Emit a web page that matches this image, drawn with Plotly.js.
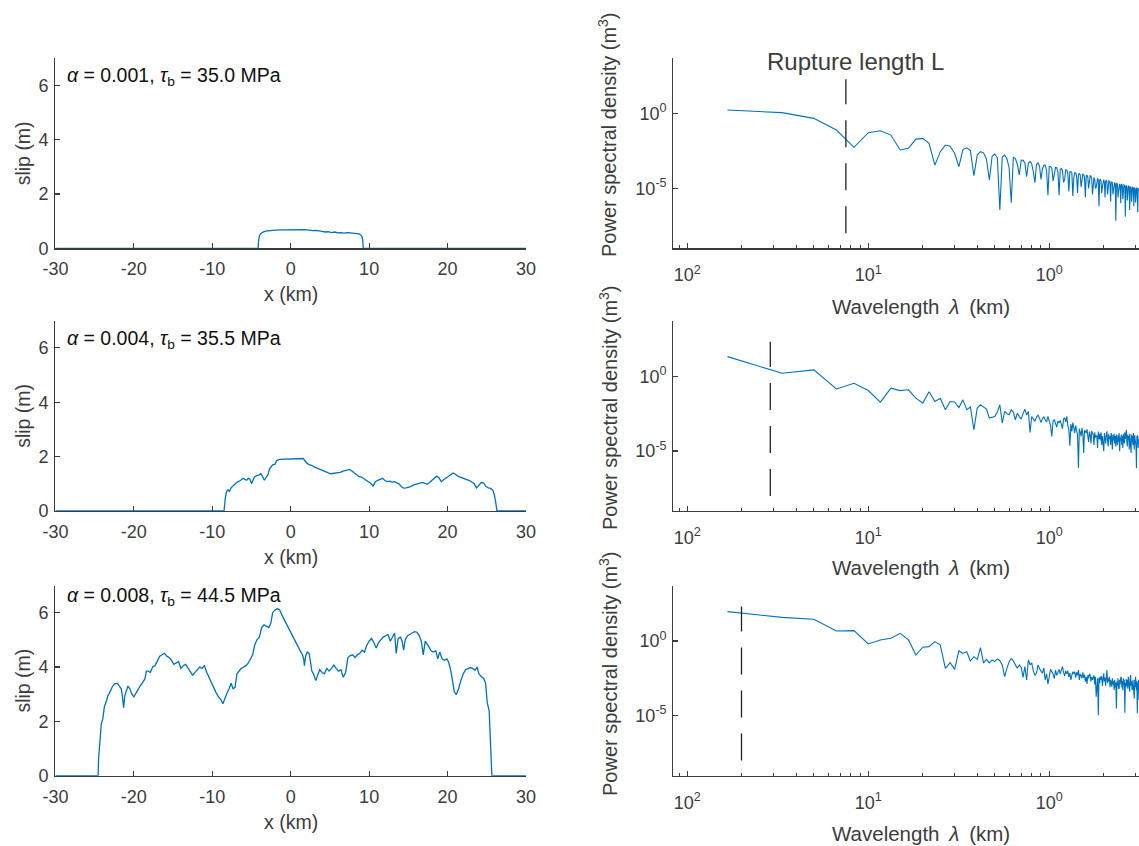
<!DOCTYPE html>
<html>
<head>
<meta charset="utf-8">
<script src="https://cdn.plot.ly/plotly-3.0.1.min.js"></script>
<style>
html,body{margin:0;padding:0;background:#fff;}
#chart{width:1139px;height:846px;}
</style>
</head>
<body>
<div id="chart"></div>
<script>
// ---------------- DATA ----------------
const panelLabels = [
  '<i>α</i> = 0.001, <i>τ</i><sub>b</sub> = 35.0 MPa',
  '<i>α</i> = 0.004, <i>τ</i><sub>b</sub> = 35.5 MPa',
  '<i>α</i> = 0.008, <i>τ</i><sub>b</sub> = 44.5 MPa'
];
const slipTickVals = [-30, -20, -10, 0, 10, 20, 30];
const slipTickText = ['-30', '-20', '-10', '0', '10', '20', '30'];
const slipYTicks = [0, 2, 4, 6];
const waveTickVals = [100, 10, 1];
const waveTickText = ['10<sup>2</sup>', '10<sup>1</sup>', '10<sup>0</sup>'];
const psdTickVals = [1, 1e-5];
const psdTickText = ['10<sup>0</sup>', '10<sup>-5</sup>'];

// rupture lengths (km) marked by dashed lines
const ruptureLength = [13.3, 34.8, 50.2];
const dashedSpan = [1e-8, 200];

// slip profiles: x (km), slip (m)
const slip1X = [-30, -4.15, -4.1, -4.0, -3.85, -3.6, -3.2, -2.6, -2.0, -1.0, 0.0, 1.0, 1.8, 2.4, 2.8, 3.2, 3.6, 4.0, 4.4, 4.8, 5.2, 5.6, 6.0, 6.4, 6.8, 7.2, 7.6, 8.0, 8.4, 8.7, 8.95, 9.1, 9.2, 9.25, 30];
const slip1Y = [0, 0, 0.25, 0.45, 0.53, 0.59, 0.63, 0.66, 0.67, 0.68, 0.69, 0.70, 0.69, 0.67, 0.65, 0.66, 0.63, 0.62, 0.60, 0.61, 0.58, 0.60, 0.57, 0.58, 0.56, 0.58, 0.57, 0.56, 0.55, 0.53, 0.49, 0.42, 0.25, 0, 0];

const slip2X = [-30, -8.5, -8.35, -8.2, -8.0, -7.8, -7.6, -7.3, -7.0, -6.7, -6.4, -6.1, -5.85, -5.6, -5.4, -5.2, -5.0, -4.8, -4.6, -4.3, -4.0, -3.8, -3.6, -3.35, -3.1, -2.9, -2.7, -2.5, -2.3, -2.0, -1.8, -1.6, -1.4, 1.6, 1.9, 2.1, 2.4, 2.7, 3.0, 3.3, 3.6, 3.9, 4.2, 4.5, 4.8, 5.1, 5.5, 5.9, 6.3, 6.7, 7.1, 7.5, 7.8, 8.1, 8.4, 8.7, 9.0, 9.3, 9.6, 9.9, 10.2, 10.5, 10.8, 11.1, 11.4, 11.7, 12.0, 12.3, 12.6, 12.9, 13.2, 13.5, 13.8, 14.1, 14.4, 14.7, 15.0, 15.3, 15.6, 15.9, 16.2, 16.5, 16.8, 17.1, 17.4, 17.7, 18.0, 18.3, 18.6, 18.9, 19.2, 19.5, 19.8, 20.1, 20.4, 20.7, 21.0, 21.3, 21.6, 21.9, 22.2, 22.5, 22.8, 23.1, 23.4, 23.7, 24.0, 24.3, 24.6, 24.9, 25.2, 25.5, 25.8, 26.0, 26.15, 26.3, 30];
const slip2Y = [0, 0, 0.45, 0.70, 0.78, 0.72, 0.85, 0.95, 1.02, 1.08, 1.12, 1.20, 1.17, 1.13, 1.20, 1.18, 1.00, 1.15, 1.26, 1.30, 1.33, 1.38, 1.28, 1.13, 1.25, 1.33, 1.55, 1.63, 1.70, 1.72, 1.85, 1.88, 1.90, 1.93, 1.82, 1.75, 1.70, 1.68, 1.62, 1.58, 1.55, 1.50, 1.47, 1.42, 1.40, 1.37, 1.38, 1.40, 1.42, 1.47, 1.50, 1.53, 1.47, 1.40, 1.33, 1.27, 1.25, 1.20, 1.12, 1.07, 1.02, 0.92, 1.08, 1.13, 1.18, 1.20, 1.12, 1.08, 1.10, 1.06, 1.08, 1.05, 1.00, 0.90, 0.84, 0.85, 0.87, 0.90, 0.95, 0.97, 1.00, 1.02, 1.05, 1.02, 0.98, 1.05, 1.12, 1.20, 1.28, 1.22, 1.08, 1.15, 1.22, 1.28, 1.33, 1.40, 1.35, 1.28, 1.25, 1.22, 1.20, 1.15, 1.12, 1.06, 1.00, 0.85, 0.95, 1.05, 1.03, 0.90, 0.85, 0.83, 0.75, 0.55, 0.30, 0, 0];

const slip3X = [-30, -24.55, -24.5, -24.35, -24.15, -23.95, -23.75, -23.5, -23.3, -23.1, -22.9, -22.7, -22.4, -22.1, -21.85, -21.6, -21.45, -21.3, -21.15, -20.95, -20.75, -20.5, -20.25, -20.0, -19.75, -19.5, -19.2, -18.9, -18.6, -18.4, -18.15, -17.9, -17.6, -17.3, -17.0, -16.7, -16.4, -16.1, -15.8, -15.5, -15.2, -14.9, -14.6, -14.3, -14.0, -13.7, -13.4, -13.1, -12.8, -12.5, -12.2, -11.9, -11.6, -11.3, -11.0, -10.7, -10.4, -10.1, -9.8, -9.5, -9.2, -8.9, -8.65, -8.4, -8.1, -7.85, -7.6, -7.35, -7.1, -6.85, -6.6, -6.3, -6.0, -5.7, -5.4, -5.1, -4.85, -4.6, -4.3, -4.0, -3.7, -3.4, -3.1, -2.8, -2.55, -2.3, -2.0, -1.7, -1.4, -1.1, 1.3, 1.5, 1.65, 1.75, 1.9, 2.1, 2.35, 2.55, 2.7, 2.9, 3.2, 3.5, 3.7, 4.0, 4.3, 4.6, 4.9, 5.2, 5.5, 5.8, 6.1, 6.4, 6.7, 7.0, 7.3, 7.6, 7.9, 8.2, 8.5, 8.8, 9.1, 9.4, 9.7, 10.0, 10.3, 10.6, 10.9, 11.2, 11.5, 11.8, 12.1, 12.4, 12.7, 13.0, 13.25, 13.45, 13.7, 14.0, 14.2, 14.4, 14.6, 14.9, 15.2, 15.5, 15.8, 16.1, 16.4, 16.65, 16.9, 17.15, 17.4, 17.6, 17.9, 18.2, 18.5, 18.75, 19.0, 19.3, 19.6, 19.9, 20.1, 20.35, 20.6, 20.85, 21.1, 21.4, 21.7, 22.0, 22.3, 22.6, 22.9, 23.2, 23.5, 23.75, 24.0, 24.3, 24.6, 24.85, 25.05, 25.3, 25.45, 25.55, 25.65, 30];
const slip3Y = [0, 0, 0.6, 1.2, 1.9, 2.1, 2.55, 2.75, 2.95, 3.05, 3.15, 3.3, 3.38, 3.4, 3.3, 3.2, 2.9, 2.5, 2.95, 3.15, 3.3, 3.2, 3.0, 2.9, 3.05, 3.15, 3.3, 3.45, 3.55, 3.85, 3.85, 3.8, 4.0, 4.05, 4.25, 4.4, 4.45, 4.5, 4.4, 4.35, 4.25, 4.1, 4.15, 4.2, 3.95, 4.05, 4.1, 3.95, 3.85, 3.7, 3.8, 3.9, 4.0, 3.95, 4.05, 3.8, 3.6, 3.45, 3.2, 3.05, 2.9, 2.8, 2.65, 2.85, 3.05, 3.2, 3.4, 3.2, 3.25, 3.75, 3.85, 3.95, 4.0, 4.05, 4.15, 4.3, 4.45, 4.8, 5.0, 5.1, 5.45, 5.55, 5.5, 5.45, 5.6, 6.0, 6.1, 6.15, 6.1, 5.9, 4.55, 4.45, 4.3, 4.05, 4.4, 4.55, 4.5, 4.2, 3.85, 3.75, 3.5, 3.75, 3.9, 3.8, 3.75, 3.95, 3.85, 3.95, 4.07, 3.95, 3.85, 3.9, 3.62, 3.8, 4.35, 4.42, 4.45, 4.35, 4.45, 4.5, 4.62, 4.55, 4.8, 4.95, 5.05, 4.9, 4.7, 4.9, 5.0, 5.1, 5.15, 5.2, 4.95, 5.1, 5.25, 4.5, 5.05, 5.1, 4.95, 4.62, 5.0, 5.15, 5.2, 5.25, 5.3, 5.28, 5.15, 4.95, 4.45, 4.95, 4.85, 4.75, 4.6, 4.55, 4.6, 4.3, 4.55, 4.3, 4.25, 4.3, 4.2, 3.95, 3.55, 3.1, 2.98, 3.2, 3.5, 3.75, 3.9, 3.95, 3.98, 3.95, 3.88, 4.0, 3.75, 3.65, 3.58, 3.4, 2.7, 2.4, 1.5, 0.8, 0, 0];

// power spectral density, log10(PSD [m^3]) for harmonics n = 1, 2, 3, ... (wavelength = domainLength / n)
const domainLength = 60; // km
const psd1Log10 = [0.25, 0.07, -0.31, -1.09, -2.25, -1.27, -1.14, -1.43, -2.43, -2.32,
 -1.70, -1.65, -1.99, -3.44, -2.54, -2.10, -2.17, -2.65, -3.55, -2.40,
 -2.28, -2.47, -4.15, -2.77, -2.54, -2.62, -3.05, -4.44, -2.85, -2.70,
 -2.95, -6.45, -2.90, -2.77, -3.00, -3.60, -5.96, -2.92, -3.00, -3.40,
 -4.10, -3.10, -3.12, -3.30, -4.22, -3.30, -3.20, -3.35, -3.90, -4.62,
 -3.40, -3.30, -3.50, -4.40, -3.70, -3.45, -3.44, -3.80, -5.45, -3.55,
 -3.52, -3.65, -4.50, -4.00, -3.60, -3.62, -3.90, -5.45, -3.75, -3.66,
 -3.80, -4.60, -4.40, -3.75, -3.78, -4.00, -5.20, -3.90, -3.88, -3.95,
 -5.50, -4.30, -3.95, -3.95, -4.20, -5.30, -4.05, -4.00, -4.10, -4.90,
 -4.60, -4.05, -4.08, -4.30, -5.60, -4.15, -4.12, -4.25, -5.00, -4.55,
 -4.15, -4.18, -4.35, -5.40, -4.30, -4.27, -4.40, -5.00, -4.95, -4.35,
 -4.33, -4.45, -6.20, -4.45, -4.38, -4.50, -5.30, -4.90, -4.42, -4.42,
 -4.60, -5.60, -4.50, -4.47, -4.60, -5.40, -5.00, -4.50, -4.52, -4.70,
 -5.90, -4.60, -4.55, -4.65, -5.40, -5.10, -4.60, -4.60, -4.75, -7.17,
 -4.70, -4.65, -4.78, -5.60, -5.20, -4.70, -4.70, -4.85, -6.00, -4.75,
 -4.72, -4.85, -5.70, -5.30, -4.76, -4.78, -4.95, -6.90, -4.85, -4.80,
 -4.92, -5.80, -5.40, -4.85, -4.85, -5.00, -6.45, -4.92, -4.88, -5.00,
 -5.90, -5.50, -4.90, -4.92, -5.05, -6.20, -5.00, -4.95, -5.05, -5.95,
 -5.60, -4.95, -4.97, -5.10, -6.60, -5.05, -5.00, -5.10];
const psd2Log10 = [1.31, 0.20, 0.42, -0.85, -0.47, -0.96, -1.73, -0.80, -0.96, -0.91,
 -1.47, -1.80, -1.04, -1.69, -1.47, -2.24, -1.69, -1.72, -2.10, -1.58,
 -2.24, -2.06, -3.58, -2.13, -1.91, -2.06, -2.20, -2.80, -2.73, -2.69,
 -2.40, -1.91, -3.13, -2.36, -2.50, -2.58, -2.24, -2.40, -2.91, -2.47,
 -2.70, -2.87, -2.50, -2.20, -2.60, -2.35, -3.76, -2.69, -2.85, -3.02,
 -2.75, -2.60, -2.80, -3.10, -2.85, -2.70, -2.91, -3.05, -2.69, -2.95,
 -3.30, -4.02, -3.00, -2.91, -3.20, -3.40, -3.00, -3.13, -2.95, -3.25,
 -3.50, -2.85, -2.80, -3.05, -2.69, -3.30, -3.60, -4.64, -3.20, -3.69,
 -3.10, -3.45, -3.80, -3.30, -3.55, -3.90, -6.13, -3.50, -3.75, -4.02,
 -3.45, -3.90, -5.13, -3.60, -3.70, -3.80, -3.55, -4.20, -4.40, -3.70,
 -3.90, -4.50, -3.65, -3.80, -3.91, -4.60, -3.75, -4.10, -3.95, -4.02,
 -4.80, -3.70, -4.20, -3.85, -4.30, -3.75, -4.60, -4.00, -4.40, -5.02,
 -3.80, -4.10, -4.50, -3.90, -3.69, -4.30, -4.70, -3.85, -4.20, -4.00,
 -4.60, -3.80, -4.10, -4.90, -3.91, -4.30, -3.85, -4.50, -4.00, -4.70,
 -3.90, -4.25, -4.60, -3.95, -4.40, -3.80, -5.02, -4.10, -4.30, -3.90,
 -4.60, -4.00, -4.80, -3.85, -4.35, -4.50, -3.75, -4.20, -3.95, -3.58,
 -4.40, -4.70, -3.90, -4.30, -4.00, -4.90, -3.85, -4.50, -4.20, -5.13,
 -3.90, -4.40, -4.00, -4.60, -3.80, -4.30, -4.90, -3.95, -4.50, -4.10,
 -4.70, -6.13, -4.00, -4.40, -3.95, -4.80, -4.20, -4.50];
const psd3Log10 = [1.96, 1.58, 1.45, 0.67, 0.69, -0.20, 0.07, 0.18, 0.51, 0.07,
 -0.94, -0.42, -0.38, -0.04, -0.27, -1.83, -1.45, -1.90, -0.65, -0.83,
 -0.72, -1.34, -1.05, -1.23, -0.45, -1.47, -1.23, -1.47, -1.27, -1.38,
 -1.20, -1.32, -1.60, -2.39, -1.83, -1.40, -1.16, -1.32, -1.60, -1.83,
 -1.60, -1.75, -2.43, -1.72, -2.61, -1.27, -1.60, -1.47, -2.00, -2.30,
 -2.16, -1.60, -1.85, -2.00, -2.16, -1.80, -2.61, -2.20, -2.88, -2.40,
 -1.90, -2.05, -2.20, -2.50, -1.95, -2.30, -2.10, -1.90, -2.20, -1.95,
 -1.72, -2.10, -2.34, -2.00, -2.20, -1.99, -2.40, -2.15, -2.61, -2.30,
 -2.05, -2.20, -2.05, -2.45, -2.10, -2.30, -1.94, -2.60, -2.20, -2.34,
 -2.50, -2.10, -2.45, -2.25, -2.72, -2.40, -2.88, -2.30, -2.50, -2.20,
 -2.28, -2.70, -2.40, -2.60, -2.50, -2.30, -2.90, -2.40, -3.73, -2.60,
 -2.50, -4.96, -2.45, -2.80, -2.39, -2.60, -2.35, -3.00, -2.50, -2.16,
 -2.70, -2.45, -3.00, -2.30, -1.94, -2.80, -2.50, -2.70, -2.39, -3.10,
 -2.60, -2.80, -3.06, -2.50, -2.90, -2.70, -3.28, -2.60, -3.10, -2.80,
 -4.51, -2.70, -3.00, -2.50, -3.20, -3.17, -2.60, -2.90, -2.45, -2.39,
 -3.10, -2.70, -3.30, -2.50, -2.90, -2.60, -4.80, -2.80, -3.10, -2.55,
 -3.00, -2.61, -3.20, -2.40, -2.90, -2.70, -3.40, -2.50, -2.28, -3.00,
 -2.70, -3.20, -3.28, -2.60, -3.00, -2.80, -3.84, -2.60, -3.10, -2.39,
 -2.90, -3.30, -2.70, -4.84, -2.80, -3.10, -2.60, -3.95];

// ---------------- CHART ----------------
const slipX = [slip1X, slip2X, slip3X];
const slipY = [slip1Y, slip2Y, slip3Y];
const psdLog = [psd1Log10, psd2Log10, psd3Log10];

const W = 1139, H = 846;
const px = v => v / W;
const py = v => 1 - v / H;

const BLUE = '#0072BD';
const AX = '#3c3c3c';
const FONT = 'Liberation Sans, Arial, Helvetica, sans-serif';

// plot-area rows (pixel top, bottom)
const rows = [[58.3, 248.3], [320.7, 511], [585.5, 775.7]];
const leftDom = [px(55.4), px(526)];
const rightDom = [px(673.4), 1];

// minor ticks of the wavelength axes (at multiples of wavenumber)
const minorVals = [];
[1000, 100, 10, 1].forEach(d => { for (let m = 2; m <= 9; m++) minorVals.push(d / m); });

const traces = [];
const layout = {
  width: W, height: H,
  margin: {l: 0, r: 0, t: 0, b: 0},
  paper_bgcolor: '#fff', plot_bgcolor: '#fff',
  showlegend: false,
  font: {family: FONT, color: AX, size: 18},
  annotations: [],
};

rows.forEach((r, i) => {
  const li = 2 * i + 1, ri = 2 * i + 2;
  const lx = li === 1 ? 'x' : 'x' + li, ly = li === 1 ? 'y' : 'y' + li;
  const rx = 'x' + ri, ry = 'y' + ri;
  const yDom = [py(r[1]), py(r[0])];

  traces.push({x: slipX[i], y: slipY[i], xaxis: lx, yaxis: ly, type: 'scatter', mode: 'lines',
    line: {color: BLUE, width: 1.3}, hoverinfo: 'skip'});

  const lam = psdLog[i].map((_, k) => domainLength / (k + 1));
  traces.push({x: lam, y: psdLog[i].map(v => Math.pow(10, v)), xaxis: rx, yaxis: ry, type: 'scatter', mode: 'lines',
    line: {color: BLUE, width: 1.1}, hoverinfo: 'skip'});
  traces.push({x: [ruptureLength[i], ruptureLength[i]], y: dashedSpan, xaxis: rx, yaxis: ry, type: 'scatter', mode: 'lines',
    line: {color: '#202020', width: 1.3, dash: '27px,16px'}, hoverinfo: 'skip'});

  const common = {showgrid: false, zeroline: false, showline: true, linecolor: AX, linewidth: 1.2,
    ticks: 'inside', ticklen: 5, tickwidth: 1.2, tickcolor: AX, tickfont: {family: FONT, size: 18, color: AX}};

  layout['xaxis' + (li === 1 ? '' : li)] = Object.assign({}, common, {
    domain: leftDom, anchor: ly, range: [-30, 30], tickmode: 'array', tickvals: slipTickVals, ticktext: slipTickText,
    ticklabelstandoff: 4});
  layout['yaxis' + (li === 1 ? '' : li)] = Object.assign({}, common, {
    domain: yDom, anchor: lx, range: [0, 7], tickmode: 'array', tickvals: slipYTicks, ticktext: slipYTicks.map(String),
    ticklabelstandoff: 2});

  layout['xaxis' + ri] = Object.assign({}, common, {
    domain: rightDom, anchor: ry, type: 'log', range: [2.077, -0.496], tickmode: 'array',
    tickvals: waveTickVals, ticktext: waveTickText, ticklabelstandoff: 10,
    minor: {tickmode: 'array', tickvals: minorVals, ticks: 'inside', ticklen: 3, tickwidth: 1, tickcolor: AX, showgrid: false}});
  layout['yaxis' + ri] = Object.assign({}, common, {
    domain: yDom, anchor: rx, type: 'log', range: [-9.01, 3.71], tickmode: 'array',
    tickvals: psdTickVals, ticktext: psdTickText, ticklabelstandoff: 2});
});

const titleFont = {family: FONT, size: 19.5, color: AX};
const addAnn = (text, x, y, extra) => layout.annotations.push(Object.assign({
  text: text, x: px(x), y: py(y), xref: 'paper', yref: 'paper', showarrow: false,
  xanchor: 'center', yanchor: 'middle', font: titleFont}, extra || {}));

const labelY = [76, 339, 596];
const xTitleLeftY = [294, 557, 822];
const xTitleRightY = [306.7, 567, 833];
const yTitleRightY = [135, 408, 674];
rows.forEach((r, i) => {
  addAnn(panelLabels[i], 65, labelY[i], {xanchor: 'left', font: {family: FONT, size: 19.5, color: '#111'}});
  addAnn('slip (m)', 23, (r[0] + r[1]) / 2, {textangle: -90});
  addAnn('x (km)', 291, xTitleLeftY[i]);
  addAnn('Power spectral density (m<sup>3</sup>)', 608, yTitleRightY[i], {textangle: -90, font: {family: FONT, size: 20, color: AX}});
  addAnn('Wavelength\u2009 <i>λ</i>\u2009 (km)', 921, xTitleRightY[i], {font: {family: FONT, size: 20.5, color: AX}});
});
addAnn('Rupture length L', 855, 62, {font: {family: FONT, size: 24, color: AX}});

Plotly.newPlot('chart', traces, layout, {staticPlot: true, displayModeBar: false});
</script>
</body>
</html>
